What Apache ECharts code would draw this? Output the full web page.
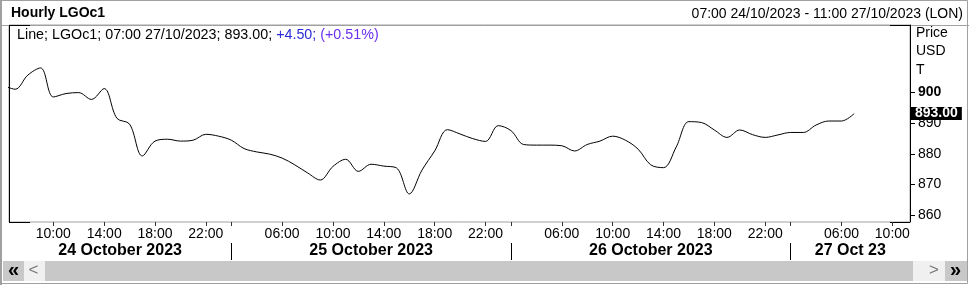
<!DOCTYPE html>
<html>
<head>
<meta charset="utf-8">
<script src="https://cdn.jsdelivr.net/npm/echarts@6/dist/echarts.min.js"></script>
<style>html,body{margin:0;padding:0;background:#fff;}#c{width:969px;height:285px;}</style>
</head>
<body>
<div id="c"></div>
<script>
// Hourly bar times (trading hours only)
const times = [
  '24/10 06:00','24/10 07:00','24/10 08:00','24/10 09:00','24/10 10:00','24/10 11:00','24/10 12:00','24/10 13:00','24/10 14:00','24/10 15:00','24/10 16:00','24/10 17:00','24/10 18:00','24/10 19:00','24/10 20:00','24/10 21:00','24/10 22:00',
  '25/10 01:00','25/10 02:00','25/10 03:00','25/10 04:00','25/10 05:00','25/10 06:00','25/10 07:00','25/10 08:00','25/10 09:00','25/10 10:00','25/10 11:00','25/10 12:00','25/10 13:00','25/10 14:00','25/10 15:00','25/10 16:00','25/10 17:00','25/10 18:00','25/10 19:00','25/10 20:00','25/10 21:00','25/10 22:00',
  '26/10 01:00','26/10 02:00','26/10 03:00','26/10 04:00','26/10 05:00','26/10 06:00','26/10 07:00','26/10 08:00','26/10 09:00','26/10 10:00','26/10 11:00','26/10 12:00','26/10 13:00','26/10 14:00','26/10 15:00','26/10 16:00','26/10 17:00','26/10 18:00','26/10 19:00','26/10 20:00','26/10 21:00','26/10 22:00',
  '27/10 01:00','27/10 02:00','27/10 03:00','27/10 04:00','27/10 05:00','27/10 06:00','27/10 07:00','27/10 08:00','27/10 09:00','27/10 10:00','27/10 11:00'
];
// Close prices (USD/T), one per bar from 24/10 06:00 to 27/10 07:00
const prices = [
  902.3, 900.9, 905.5, 907.8, 898.4, 899.5, 899.8, 897.6, 901.1, 891.5, 889.6, 879.3, 884.1, 884.7, 884.1, 884.4, 886.3,
  885.7, 884.4, 881.7, 880.6, 879.9, 878.6, 876.4, 873.8, 871.5, 875.9, 878.2, 874.3, 876.6, 876.0, 875.4, 867.0, 874.7, 880.9, 887.8, 886.4, 884.9,
  884.0, 889.1, 887.5, 883.0, 882.8, 882.8, 882.6, 880.9, 883.0, 884.1, 885.7, 884.4, 881.5, 876.4, 875.5, 882.2, 890.4, 890.1, 887.7, 885.3, 887.7, 886.2,
  885.3, 886.1, 886.9, 886.9, 889.3, 890.6, 890.6, 893.0
];
const hourTicks = ['24/10 10:00','24/10 14:00','24/10 18:00','24/10 22:00',
  '25/10 06:00','25/10 10:00','25/10 14:00','25/10 18:00','25/10 22:00',
  '26/10 06:00','26/10 10:00','26/10 14:00','26/10 18:00','26/10 22:00',
  '27/10 06:00','27/10 10:00'];
const daySeparators = ['25/10 02:00','26/10 02:00','27/10 02:00'];
const dayLabels = ['24 October 2023','25 October 2023','26 October 2023','27 Oct 23'];
const yTicks = [860, 870, 880, 890, 900];
const lastPrice = 893.00;

const FONT = "'Liberation Sans', Arial, sans-serif";
const xMin = 0.515, xMax = 71.39;
const hourIdx = hourTicks.map(t => times.indexOf(t));
const sepIdx = daySeparators.map(t => times.indexOf(t));
const bounds = [xMin].concat(sepIdx).concat([xMax]);
const dayCenters = dayLabels.map((d, i) => (bounds[i] + bounds[i + 1]) / 2);
function nearestIdx(arr, v) { let b = 0; arr.forEach((a, i) => { if (Math.abs(a - v) < Math.abs(arr[b] - v)) b = i; }); return b; }

const chart = echarts.init(document.getElementById('c'));
const black = '#000';
const gray = '#a0a0a0';
function line(x1, y1, x2, y2, color, w) {
  return { type: 'line', silent: true, shape: { x1, y1, x2, y2 }, style: { stroke: color, lineWidth: w || 1 } };
}
function txt(x, y, text, font, color, align) {
  return { type: 'text', silent: true, x, y, style: { text, font, fill: color || '#000', textAlign: align || 'left', textVerticalAlign: 'middle' } };
}
chart.setOption({
  animation: false,
  backgroundColor: '#fff',
  textStyle: { fontFamily: FONT },
  grid: { left: 9, right: 59, top: 25, bottom: 63, show: true, borderColor: gray, borderWidth: 1 },
  xAxis: [
    {
      type: 'value', min: xMin, max: xMax, position: 'bottom',
      axisLine: { show: false }, splitLine: { show: false },
      axisTick: { show: true, customValues: hourIdx.concat(sepIdx), length: 4, lineStyle: { color: '#333' } },
      axisLabel: { customValues: hourIdx, formatter: v => times[Math.round(v)].slice(6), fontSize: 14, color: '#000', margin: 5, fontFamily: FONT }
    },
    {
      type: 'value', min: xMin, max: xMax, position: 'bottom', offset: 21,
      axisLine: { show: false }, splitLine: { show: false },
      axisTick: { show: true, customValues: sepIdx, length: 17, lineStyle: { color: '#000' } },
      axisLabel: { customValues: dayCenters, formatter: v => dayLabels[nearestIdx(dayCenters, v)], fontSize: 16, fontWeight: 'bold', color: '#000', margin: 0, fontFamily: FONT }
    }
  ],
  yAxis: {
    type: 'value', position: 'right', min: 857.9, max: 921.7,
    axisLine: { show: true, lineStyle: { color: '#000' } },
    splitLine: { show: false },
    axisTick: { show: true, customValues: yTicks, length: 5, lineStyle: { color: '#000' } },
    axisLabel: {
      customValues: yTicks, margin: 8, fontSize: 14, color: '#000', fontFamily: FONT,
      formatter: v => (v === 900 ? '{b|' + v + '}' : '' + v),
      rich: { b: { fontWeight: 'bold', fontSize: 14, fontFamily: FONT, color: '#000' } }
    }
  },
  series: [{
    type: 'line', xAxisIndex: 0, yAxisIndex: 0,
    data: prices.map((p, k) => [k, p]),
    smooth: 0.35, showSymbol: false, clip: true,
    lineStyle: { color: '#000', width: 1 },
    markLine: {
      silent: true, symbol: 'none', animation: false,
      lineStyle: { color: 'rgba(0,0,0,0)', width: 1, type: 'solid' },
      emphasis: { disabled: true },
      data: [{ yAxis: lastPrice }],
      label: {
        show: true, position: 'end', distance: 1, formatter: lastPrice.toFixed(2),
        backgroundColor: '#000', color: '#fff', fontWeight: 'bold', fontSize: 14, fontFamily: FONT,
        padding: [0, 4], lineHeight: 13
      }
    }
  }],
  graphic: [
    { type: 'rect', silent: true, shape: { x: 0.5, y: 0.5, width: 967, height: 283 }, style: { fill: 'none', stroke: gray, lineWidth: 1 } },
    line(1, 0, 1, 285, gray, 2),
    line(0, 25.5, 969, 25.5, gray, 1),
    line(9.5, 25, 9.5, 222.5, black, 1),
    line(9, 25.5, 30, 25.5, black, 1),
    line(9, 222.5, 30, 222.5, black, 1),
    line(890, 25.5, 910, 25.5, black, 1),
    line(890, 222.5, 910, 222.5, black, 1),
    txt(11, 13.5, 'Hourly LGOc1', 'bold 14px ' + FONT),
    txt(963, 14, '07:00 24/10/2023 - 11:00 27/10/2023 (LON)', '14px ' + FONT, '#000', 'right'),
    {
      type: 'text', silent: true, x: 17, y: 35,
      style: {
        text: '{a|Line; LGOc1; 07:00 27/10/2023; 893.00; }{b|+4.50; }{c|(+0.51%)}',
        textVerticalAlign: 'middle',
        rich: {
          a: { fontSize: 14.3, fontFamily: FONT, fill: '#000', color: '#000' },
          b: { fontSize: 14.3, fontFamily: FONT, fill: '#2a2ad8', color: '#2a2ad8' },
          c: { fontSize: 14.3, fontFamily: FONT, fill: '#6a30ee', color: '#6a30ee' }
        }
      }
    },
    txt(916, 33, 'Price', '14px ' + FONT),
    txt(916, 51.5, 'USD', '14px ' + FONT),
    txt(916, 70, 'T', '14px ' + FONT),
    // scrollbar
    { type: 'rect', silent: true, shape: { x: 3, y: 261, width: 21, height: 20 }, style: { fill: '#c8c8c8' } },
    { type: 'rect', silent: true, shape: { x: 24, y: 261, width: 21, height: 20 }, style: { fill: '#f0f0f0' } },
    { type: 'rect', silent: true, shape: { x: 45, y: 261, width: 868, height: 20 }, style: { fill: '#c8c8c8' } },
    { type: 'rect', silent: true, shape: { x: 913, y: 261, width: 32, height: 20 }, style: { fill: '#f0f0f0' } },
    { type: 'rect', silent: true, shape: { x: 945, y: 261, width: 22, height: 20 }, style: { fill: '#c8c8c8' } },
    txt(13.5, 270, '«', 'bold 20px ' + FONT, '#000', 'center'),
    txt(33.5, 270.5, '<', '17px ' + FONT, '#777', 'center'),
    txt(934, 270.5, '>', '17px ' + FONT, '#777', 'center'),
    txt(955.5, 270, '»', 'bold 20px ' + FONT, '#000', 'center')
  ]
});
</script>
</body>
</html>
